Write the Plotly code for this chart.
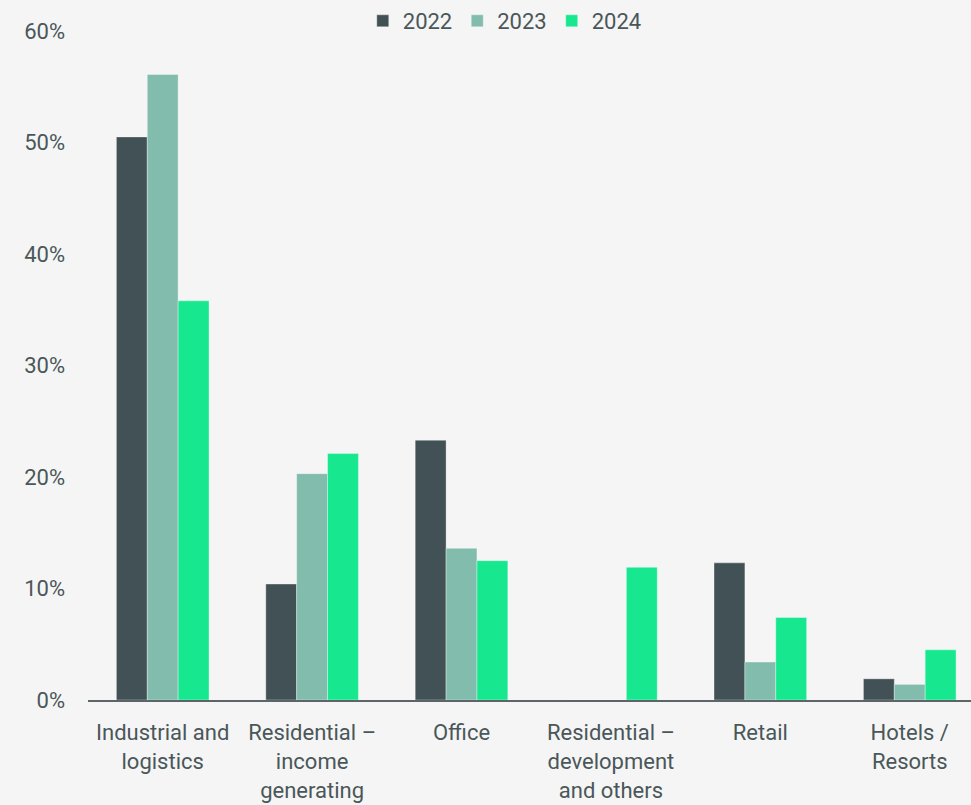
import plotly.graph_objects as go

# Share of investment volume by sector
categories = [
    "Industrial and<br>logistics",
    "Residential –<br>income<br>generating",
    "Office",
    "Residential –<br>development<br>and others",
    "Retail",
    "Hotels /<br>Resorts",
]
years = ["2022", "2023", "2024"]
values_2022 = [50.5, 10.4, 23.3, 0.0, 12.3, 1.9]
values_2023 = [56.1, 20.3, 13.6, 0.0, 3.4, 1.4]
values_2024 = [35.8, 22.1, 12.5, 11.9, 7.4, 4.5]
colors = ["#425155", "#82bcad", "#17e88f"]
y_ticks = [0, 10, 20, 30, 40, 50, 60]

text_color = "#4a5759"
font_family = "Roboto, Inter, sans-serif"
font_size = 22

fig = go.Figure()
for name, vals, col in zip(years, [values_2022, values_2023, values_2024], colors):
    fig.add_trace(go.Bar(
        name=name,
        x=categories,
        y=vals,
        marker=dict(color=col, line=dict(color="rgba(255,255,255,0.35)", width=1)),
    ))

fig.update_layout(
    width=971,
    height=805,
    barmode="group",
    bargap=0.38,
    bargroupgap=0,
    paper_bgcolor="#f5f5f5",
    plot_bgcolor="#f5f5f5",
    margin=dict(l=88, r=0, t=28, b=105),
    font=dict(family=font_family, size=font_size, color=text_color),
    legend=dict(
        orientation="h",
        x=0.472,
        xanchor="center",
        y=1.015,
        yanchor="middle",
        font=dict(size=font_size, color=text_color),
        itemwidth=30,
        traceorder="normal",
        bgcolor="rgba(0,0,0,0)",
    ),
    xaxis=dict(
        range=[-0.5, 5.41],
        showline=True,
        linecolor="#5c6668",
        linewidth=2,
        ticks="",
        showgrid=False,
        ticklabelstandoff=12,
        tickfont=dict(size=font_size, color=text_color),
    ),
    yaxis=dict(
        range=[0, 60],
        tickvals=y_ticks,
        ticktext=[f"{v}%" for v in y_ticks],
        showgrid=False,
        zeroline=False,
        showline=False,
        ticks="",
        ticklabelstandoff=22,
        tickfont=dict(size=font_size, color=text_color),
    ),
)

fig.write_html("out.html")
